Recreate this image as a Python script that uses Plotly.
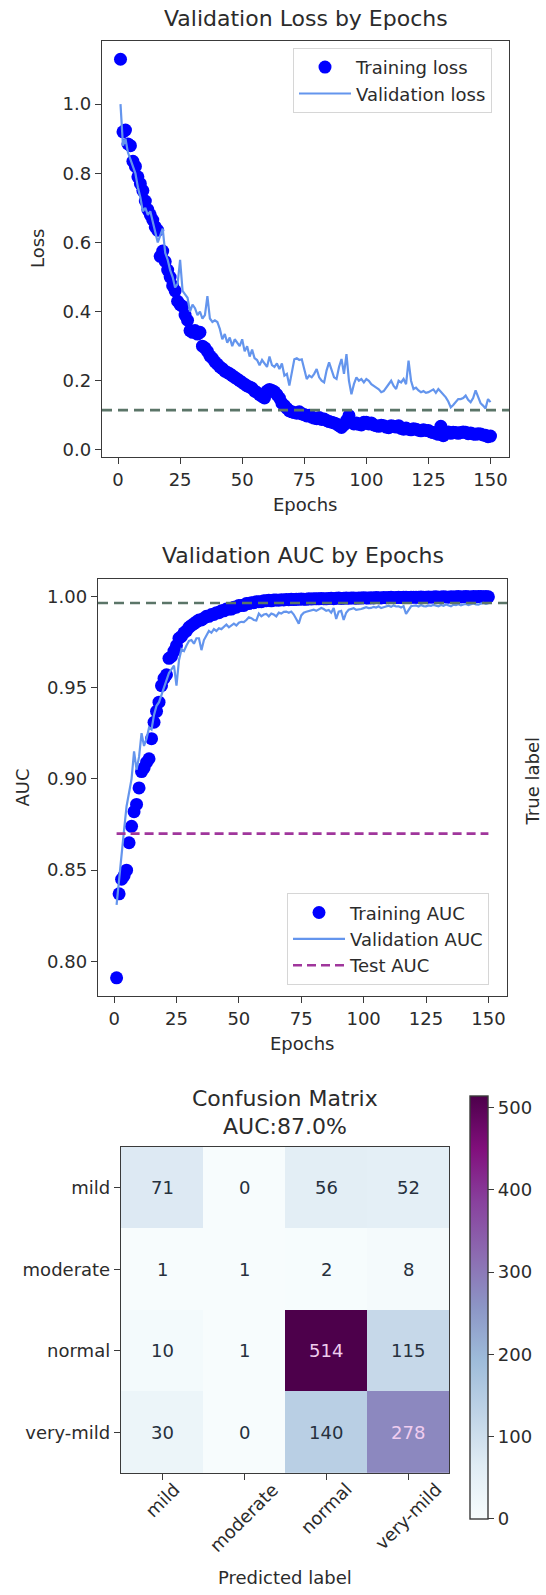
import plotly.graph_objects as go

W, H = 546, 1595

epochs = list(range(1, 151))

train_loss = [
    1.13, 0.92, 0.925, 0.885, 0.88, 0.835, 0.82, 0.79, 0.77, 0.75,
    0.72, 0.695, 0.68, 0.665, 0.645, 0.635, 0.56, 0.575, 0.545, 0.52,
    0.50, 0.475, 0.46, 0.43, 0.42, 0.415, 0.39, 0.375, 0.345, 0.34,
    0.345, 0.335, 0.34, 0.30, 0.295, 0.285, 0.272, 0.265, 0.255, 0.248,
    0.24, 0.235, 0.228, 0.224, 0.22, 0.215, 0.21, 0.205, 0.20, 0.195,
    0.19, 0.185, 0.182, 0.178, 0.17, 0.166, 0.16, 0.155, 0.15, 0.17,
    0.175, 0.172, 0.168, 0.16, 0.15, 0.135, 0.128, 0.12, 0.113, 0.11,
    0.108, 0.106, 0.11, 0.104, 0.102, 0.098, 0.1, 0.095, 0.092, 0.09,
    0.094, 0.088, 0.089, 0.085, 0.082, 0.08, 0.078, 0.075, 0.07, 0.065,
    0.072, 0.085, 0.099, 0.08, 0.075, 0.078, 0.074, 0.072, 0.08, 0.08,
    0.075, 0.078, 0.072, 0.07, 0.068, 0.071, 0.07, 0.066, 0.064, 0.07,
    0.068, 0.066, 0.07, 0.062, 0.06, 0.063, 0.06, 0.058, 0.061, 0.06,
    0.057, 0.055, 0.058, 0.056, 0.056, 0.052, 0.05, 0.048, 0.045, 0.068,
    0.041, 0.05, 0.052, 0.048, 0.051, 0.05, 0.048, 0.05, 0.052, 0.051,
    0.047, 0.049, 0.046, 0.045, 0.047, 0.046, 0.043, 0.042, 0.038, 0.04,
]

val_loss = [
    1.0, 0.88, 0.90, 0.86, 0.84, 0.82, 0.80, 0.76, 0.73, 0.69,
    0.70, 0.68, 0.69, 0.66, 0.63, 0.60, 0.62, 0.64, 0.57, 0.55,
    0.52, 0.50, 0.47, 0.48, 0.55, 0.46, 0.45, 0.44, 0.40, 0.42,
    0.41, 0.39, 0.40, 0.38, 0.39, 0.445, 0.38, 0.37, 0.375, 0.37,
    0.35, 0.32, 0.335, 0.31, 0.325, 0.30, 0.32, 0.31, 0.30, 0.32,
    0.285, 0.30, 0.27, 0.29, 0.265, 0.26, 0.245, 0.26, 0.25, 0.24,
    0.27, 0.245, 0.24, 0.25, 0.234, 0.25, 0.215, 0.22, 0.186, 0.22,
    0.262, 0.265, 0.26, 0.262, 0.23, 0.205, 0.215, 0.21, 0.22, 0.234,
    0.21, 0.2, 0.195, 0.23, 0.253, 0.23, 0.21, 0.205, 0.24, 0.263,
    0.22, 0.277, 0.2, 0.161, 0.19, 0.21, 0.2, 0.205, 0.195, 0.205,
    0.2, 0.19, 0.186, 0.18, 0.175, 0.167, 0.17, 0.18, 0.19, 0.2,
    0.185, 0.176, 0.2, 0.195, 0.205, 0.19, 0.258, 0.2, 0.176, 0.18,
    0.172, 0.167, 0.17, 0.165, 0.167, 0.172, 0.175, 0.165, 0.176, 0.168,
    0.16, 0.152, 0.14, 0.123, 0.13, 0.14, 0.147, 0.147, 0.15, 0.157,
    0.145, 0.138, 0.15, 0.172, 0.155, 0.135, 0.128, 0.12, 0.147, 0.138,
]

train_auc = [
    0.791, 0.837, 0.845, 0.847, 0.850, 0.865, 0.874, 0.882, 0.886, 0.895,
    0.904, 0.906, 0.909, 0.911, 0.922, 0.931, 0.937, 0.942, 0.951, 0.955,
    0.957, 0.966, 0.967, 0.970, 0.973, 0.977, 0.978, 0.980, 0.981, 0.983,
    0.984, 0.985, 0.986, 0.987, 0.987, 0.988, 0.989, 0.989, 0.990, 0.990,
    0.991, 0.991, 0.992, 0.992, 0.993, 0.993, 0.993, 0.994, 0.994, 0.995,
    0.995, 0.995, 0.996, 0.996, 0.9965, 0.9965, 0.997, 0.997, 0.997, 0.9975,
    0.9976, 0.9978, 0.9975, 0.9979, 0.998, 0.9978, 0.9981, 0.998, 0.9982, 0.9981,
    0.9983, 0.9982, 0.9984, 0.9983, 0.9985, 0.9984, 0.9983, 0.9986, 0.9985, 0.9986,
    0.9987, 0.9986, 0.9988, 0.9987, 0.9986, 0.9988, 0.9989, 0.9987, 0.9989, 0.999,
    0.9988, 0.9989, 0.999, 0.9989, 0.9991, 0.999, 0.9989, 0.9991, 0.999, 0.9992,
    0.9991, 0.999, 0.9992, 0.9991, 0.9993, 0.9992, 0.9991, 0.9993, 0.9992, 0.9993,
    0.9994, 0.9992, 0.9993, 0.9994, 0.9993, 0.9995, 0.9994, 0.9993, 0.9995, 0.9994,
    0.9995, 0.9994, 0.9996, 0.9995, 0.9994, 0.9996, 0.9995, 0.9996, 0.9997, 0.9995,
    0.9996, 0.9997, 0.9996, 0.9995, 0.9997, 0.9996, 0.9997, 0.9998, 0.9996, 0.9997,
    0.9998, 0.9997, 0.9996, 0.9998, 0.9997, 0.9999, 0.9998, 0.9997, 0.9998, 0.9997,
]

val_auc = [
    0.831, 0.845, 0.862, 0.872, 0.885, 0.893, 0.900, 0.915, 0.905, 0.912,
    0.925, 0.918, 0.922, 0.928, 0.927, 0.935, 0.940, 0.942, 0.946, 0.950,
    0.955, 0.958, 0.960, 0.962, 0.951, 0.965, 0.971, 0.970, 0.973, 0.9755,
    0.976, 0.974, 0.977, 0.977, 0.9705, 0.976, 0.9785, 0.981, 0.980, 0.982,
    0.981, 0.9825, 0.982, 0.983, 0.9845, 0.983, 0.984, 0.985, 0.984, 0.9855,
    0.986, 0.9858, 0.987, 0.9885, 0.988, 0.987, 0.9867, 0.9905, 0.989, 0.990,
    0.9903, 0.989, 0.9905, 0.990, 0.989, 0.991, 0.9905, 0.9915, 0.9916, 0.991,
    0.9916, 0.990, 0.9875, 0.985, 0.9895, 0.991, 0.9915, 0.992, 0.9925, 0.9926,
    0.992, 0.993, 0.9936, 0.993, 0.992, 0.9925, 0.991, 0.9935, 0.9876, 0.9916,
    0.992, 0.987, 0.991, 0.9926, 0.993, 0.9935, 0.9925, 0.9926, 0.993, 0.9935,
    0.994, 0.9935, 0.9936, 0.9942, 0.9938, 0.9945, 0.9935, 0.994, 0.9945, 0.9948,
    0.9942, 0.995, 0.9944, 0.9945, 0.9938, 0.9946, 0.9903, 0.9925, 0.9945, 0.9948,
    0.995, 0.9944, 0.9952, 0.9946, 0.9945, 0.995, 0.9948, 0.9953, 0.9947, 0.9945,
    0.9952, 0.9948, 0.9955, 0.995, 0.9945, 0.9954, 0.9952, 0.9956, 0.995, 0.9955,
    0.9958, 0.9952, 0.9956, 0.996, 0.9955, 0.9954, 0.996, 0.9963, 0.9958, 0.9962,
]

loss_ref_line = 0.115      # grey dashed reference in the loss chart
auc_ref_line = 0.9963      # grey dashed reference in the AUC chart
test_auc = 0.870

class_labels = ["mild", "moderate", "normal", "very-mild"]
conf_matrix = [
    [71, 0, 56, 52],
    [1, 1, 2, 8],
    [10, 1, 514, 115],
    [30, 0, 140, 278],
]

FONT = "DejaVu Sans"
TXT = "#2b2b2b"
FRAME = "#3a3a3a"
GREY_DASH = "#5b7568"
MAGENTA = "#a0369c"

bupu = [
    [0.0, "#f7fcfd"], [0.125, "#e0ecf4"], [0.25, "#bfd3e6"], [0.375, "#9ebcda"],
    [0.5, "#8c96c6"], [0.625, "#8c6bb1"], [0.75, "#88419d"], [0.875, "#810f7c"],
    [1.0, "#4d004b"],
]


def px_x(v):
    return v / W


def px_y(v):
    return 1 - v / H


fig = go.Figure()

# ---------- Loss chart ----------
fig.add_trace(go.Scatter(
    x=epochs, y=train_loss, mode="markers", name="Training loss",
    marker=dict(color="#0000ff", size=13, line=dict(width=0)),
    xaxis="x", yaxis="y", legend="legend"))
fig.add_trace(go.Scatter(
    x=epochs, y=val_loss, mode="lines", name="Validation loss",
    line=dict(color="#6495ed", width=2.2),
    xaxis="x", yaxis="y", legend="legend"))

# ---------- AUC chart ----------
fig.add_trace(go.Scatter(
    x=epochs, y=train_auc, mode="markers", name="Training AUC",
    marker=dict(color="#0000ff", size=13, line=dict(width=0)),
    xaxis="x2", yaxis="y2", legend="legend2"))
fig.add_trace(go.Scatter(
    x=epochs, y=val_auc, mode="lines", name="Validation AUC",
    line=dict(color="#6495ed", width=2.2),
    xaxis="x2", yaxis="y2", legend="legend2"))
fig.add_trace(go.Scatter(
    x=[epochs[0], epochs[-1]], y=[test_auc, test_auc], mode="lines", name="Test AUC",
    line=dict(color=MAGENTA, width=2.6, dash="9px,5px"),
    xaxis="x2", yaxis="y2", legend="legend2"))

# ---------- Confusion matrix ----------
zmax = max(max(r) for r in conf_matrix)
zmin = min(min(r) for r in conf_matrix)
fig.add_trace(go.Heatmap(
    z=conf_matrix, x=class_labels, y=class_labels,
    colorscale=bupu, zmin=zmin, zmax=zmax, xaxis="x3", yaxis="y3",
    showscale=True, hoverinfo="skip",
    colorbar=dict(
        x=px_x(470), xanchor="left", xpad=0, ypad=0,
        y=px_y(1098), yanchor="top", len=423, lenmode="pixels",
        thickness=18, thicknessmode="pixels",
        outlinewidth=1.4, outlinecolor=FRAME,
        tickvals=[0, 100, 200, 300, 400, 500], ticks="outside", ticklen=6,
        tickwidth=1.4, tickcolor=FRAME,
        tickfont=dict(family=FONT, size=18, color=TXT)),
))

axis_common = dict(
    showline=True, mirror=True, linecolor=FRAME, linewidth=1.4,
    ticks="outside", ticklen=6, tickwidth=1.4, tickcolor=FRAME,
    showgrid=False, zeroline=False,
    tickfont=dict(family=FONT, size=18, color=TXT),
)

legend_common = dict(
    xanchor="left", yanchor="top",
    bgcolor="rgba(255,255,255,0.9)", bordercolor="#d6d6d6", borderwidth=1,
    font=dict(family=FONT, size=18, color=TXT), itemwidth=52,
    tracegroupgap=0)

fig.update_layout(
    width=W, height=H, margin=dict(l=0, r=0, t=0, b=0),
    paper_bgcolor="white", plot_bgcolor="white",
    font=dict(family=FONT, color=TXT),
    xaxis=dict(domain=[px_x(102), px_x(509)], range=[-6.45, 157.45],
               tickvals=[0, 25, 50, 75, 100, 125, 150], anchor="y", **axis_common),
    yaxis=dict(domain=[px_y(458), px_y(41)], range=[-0.021, 1.183],
               tickvals=[0.0, 0.2, 0.4, 0.6, 0.8, 1.0], tickformat=".1f",
               anchor="x", **axis_common),
    xaxis2=dict(domain=[px_x(98), px_x(507)], range=[-6.45, 157.45],
                tickvals=[0, 25, 50, 75, 100, 125, 150], anchor="y2", **axis_common),
    yaxis2=dict(domain=[px_y(998), px_y(580)], range=[0.781, 1.0095],
                tickvals=[0.80, 0.85, 0.90, 0.95, 1.00], tickformat=".2f",
                anchor="x2", **axis_common),
    xaxis3=dict(domain=[px_x(121), px_x(449)], range=[-0.5, 3.5],
                showticklabels=False, anchor="y3", **axis_common),
    yaxis3=dict(domain=[px_y(1476), px_y(1149)], range=[3.5, -0.5],
                anchor="x3", **axis_common),
    legend=dict(x=px_x(293), y=px_y(48), **legend_common),
    legend2=dict(x=px_x(287), y=px_y(895), **legend_common),
)

# dashed reference lines
fig.add_shape(type="line", xref="x domain", yref="y", x0=0, x1=1,
              y0=loss_ref_line, y1=loss_ref_line,
              line=dict(color=GREY_DASH, width=2.6, dash="10px,6px"))
fig.add_shape(type="line", xref="x2 domain", yref="y2", x0=0, x1=1,
              y0=auc_ref_line, y1=auc_ref_line,
              line=dict(color=GREY_DASH, width=2.6, dash="10px,6px"))

ann = []


def text_at(x, y, s, size=18, angle=0, xa="center", ya="middle", color=TXT):
    ann.append(dict(x=px_x(x), y=px_y(y), xref="paper", yref="paper", text=s,
                    showarrow=False, textangle=angle, xanchor=xa, yanchor=ya,
                    font=dict(family=FONT, size=size, color=color)))


# titles and axis labels
text_at(305.5, 19, "Validation Loss by Epochs", size=22)
text_at(302.5, 557, "Validation AUC by Epochs", size=22)
text_at(305.5, 505, "Epochs")
text_at(302.5, 1045, "Epochs")
text_at(37, 249.5, "Loss", angle=-90)
text_at(23, 789, "AUC", angle=-90)
text_at(533, 783, "True label", angle=-90)
text_at(285, 1101, "Confusion Matrix", size=22)
text_at(285, 1129, "AUC:87.0%", size=22)
text_at(285, 1580, "Predicted label")

# rotated x tick labels for the matrix
for lab in class_labels:
    ann.append(dict(x=lab, y=px_y(1479), xref="x3", yref="paper", text=lab,
                    showarrow=False, textangle=-45, xanchor="center", yanchor="top",
                    font=dict(family=FONT, size=18, color=TXT)))

# cell values
thresh = (zmax + zmin) / 2.0
for i, row in enumerate(conf_matrix):
    for j, v in enumerate(row):
        ann.append(dict(x=class_labels[j], y=class_labels[i], xref="x3", yref="y3",
                        text=str(v), showarrow=False,
                        font=dict(family=FONT, size=18,
                                  color="#f0cdef" if v >= thresh else "#26303d")))

fig.update_layout(annotations=ann)

fig.write_html("out.html")
